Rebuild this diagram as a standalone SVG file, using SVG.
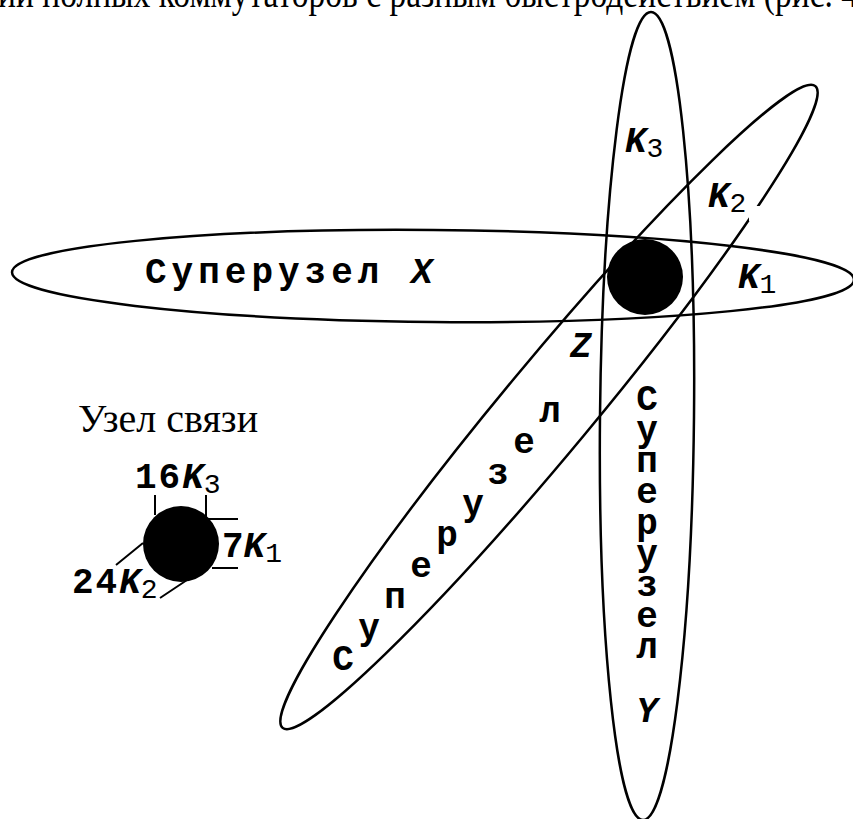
<svg xmlns="http://www.w3.org/2000/svg" width="853" height="819" viewBox="0 0 853 819">
<style>
.ell{fill:none;stroke:#000;stroke-width:2.5}
.ln{stroke:#000;stroke-width:2;fill:none}
.mono{font-family:"Courier New","Liberation Mono","DejaVu Sans Mono",monospace;font-weight:bold;font-size:36px;fill:#000}
.it{font-style:italic}
.sub{font-weight:normal;font-style:normal;font-size:28px}
.serif{font-family:"Liberation Serif","Times New Roman",serif;fill:#000}
</style>
<rect width="853" height="819" fill="#fff"/>
<text class="serif" x="-2" y="7" font-size="40" textLength="860" lengthAdjust="spacingAndGlyphs">ии полных коммутаторов с разным быстродействием (рис. 4</text>
<g id="connectors"></g>
<g id="superX">
<ellipse class="ell" cx="433" cy="276" rx="421" ry="46" transform="rotate(0.5 433 276)"/>
<text class="mono" x="145" y="283" letter-spacing="5">Суперузел <tspan class="it">X</tspan></text>
</g>
<g id="superY">
<ellipse class="ell" cx="647" cy="416" rx="47" ry="404" transform="rotate(0.57 647 416)"/>
<text class="mono" text-anchor="middle" x="647 647 647 647 647 647 647 647 647" y="410 441 472 503 534 565 596 627 658">Суперузел</text>
<text class="mono it" text-anchor="middle" x="647" y="722">Y</text>
</g>
<g id="superZ">
<ellipse class="ell" cx="549" cy="407" rx="417" ry="45" transform="rotate(-50.3 549 407)"/>
<rect x="749" y="206" width="12" height="15" fill="#fff"/>
<text class="mono" text-anchor="middle" x="343 369 395 421 447 473 498 524 550" y="670 639 608 577 546 515 484 453 422">Суперузел</text>
<text class="mono it" x="570" y="357">Z</text>
</g>
<g id="hub">
<circle cx="645" cy="277" r="38" fill="#000"/>
<text class="mono it" x="625" y="152">K<tspan class="sub" dy="5">3</tspan></text>
<text class="mono it" x="708" y="207">K<tspan class="sub" dy="5">2</tspan></text>
<text class="mono it" x="738" y="288">K<tspan class="sub" dy="5">1</tspan></text>
</g>
<g id="legend">
<text class="serif" x="78" y="432" font-size="40">Узел связи</text>
<circle cx="181" cy="544" r="38" fill="#000"/>
<path class="ln" d="M155 495V515M206 495V518M207 519H238M212 568H238M116 565L143 543M160 598L187 580"/>
<text class="mono" x="135" y="488" letter-spacing="2">16<tspan class="it" letter-spacing="0">K</tspan><tspan class="sub" dy="5">3</tspan></text>
<text class="mono" x="222" y="557">7<tspan class="it">K</tspan><tspan class="sub" dy="5">1</tspan></text>
<text class="mono" x="72" y="593" letter-spacing="2">24<tspan class="it" letter-spacing="0">K</tspan><tspan class="sub" dy="5">2</tspan></text>
</g>
</svg>
